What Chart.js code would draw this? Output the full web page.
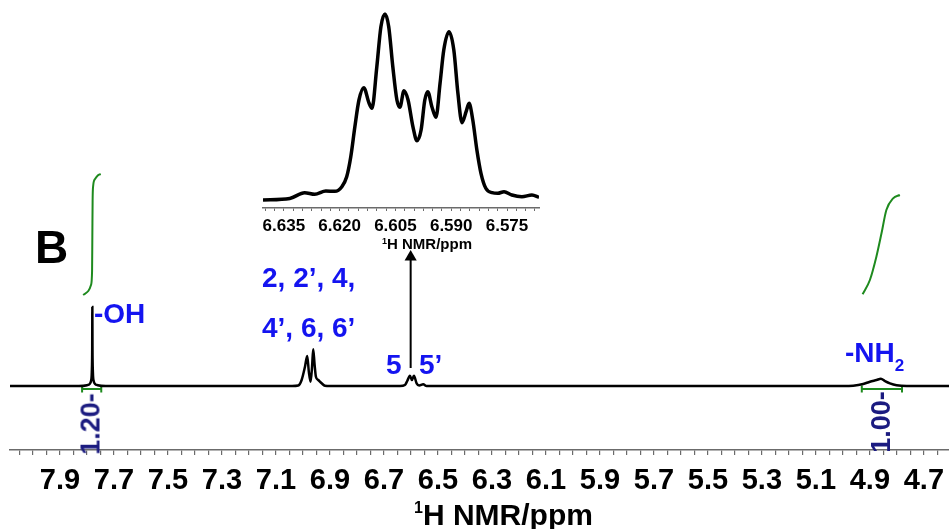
<!DOCTYPE html>
<html>
<head>
<meta charset="utf-8">
<script src="https://cdn.jsdelivr.net/npm/chart.js@4.4.1/dist/chart.umd.min.js"></script>
<style>
html, body { margin: 0; padding: 0; background: #fff; overflow: hidden; }
#wrap { position: relative; width: 949px; height: 529px; font-family: "Liberation Sans", Arial, sans-serif; font-weight: bold; }
canvas { position: absolute; }
#main { left: 0; top: 0; }
#inset { left: 250px; top: 0; }
.lbl { position: absolute; white-space: nowrap; line-height: 1; }
.blue { color: #1414f0; font-size: 28px; }
.int { color: #1b1b80; font-size: 27px; transform: translate(-50%, -50%) rotate(-90deg); }
</style>
</head>
<body>
<div id="wrap">
  <canvas id="main" width="949" height="529"></canvas>
  <canvas id="inset" width="300" height="252"></canvas>

  <div class="lbl" style="left:35px;top:224px;font-size:46px;color:#000">B</div>
  <div class="lbl blue" style="left:94px;top:300px">-OH</div>
  <div class="lbl blue" style="left:262px;top:264px">2, 2’, 4,</div>
  <div class="lbl blue" style="left:262px;top:314px">4’, 6, 6’</div>
  <div class="lbl blue" style="left:386px;top:351px">5</div>
  <div class="lbl blue" style="left:419px;top:351px">5’</div>
  <div class="lbl blue" style="left:845px;top:339px">-NH<span style="font-size:17px;position:relative;top:9px">2</span></div>
  <div class="lbl int" style="left:91px;top:424px">1.20-</div>
  <div class="lbl int" style="left:881px;top:422px">1.00-</div>

  <div class="lbl" style="left:414px;top:500px;font-size:30px;color:#000"><span style="font-size:16px;position:relative;top:-12px">1</span>H NMR/ppm</div>
  <div class="lbl" style="left:382px;top:236px;font-size:15px;color:#000"><span style="font-size:9px;position:relative;top:-5px">1</span>H NMR/ppm</div>
</div>

<script>
// 1H spectrum, chemical shift (ppm) and intensity
const spectrumPpm = [8.085, 7.830, 7.800, 7.790, 7.785, 7.782, 7.7805, 7.780, 7.7795, 7.778, 7.775, 7.770, 7.760, 7.730,
  7.040, 7.0174, 7.0048, 6.9926, 6.9841, 6.978, 6.9715, 6.966, 6.9619, 6.957, 6.9519, 6.9433, 6.9307, 6.9185, 6.900,
  6.640, 6.6222, 6.6137, 6.6037, 6.5963, 6.5889, 6.5789, 6.5693, 6.5544, 6.5419,
  5.000, 4.9619, 4.9248, 4.900, 4.8752, 4.8593, 4.8444, 4.8259, 4.8011, 4.7641, 4.607];
const spectrumIntensity = [0, 0, 0.8, 2, 5, 14, 40, 79, 40, 14, 5, 2, 0.8, 0,
  0, 0.5, 6, 19, 30, 14, 4.3, 20, 36.7, 22, 9.3, 6, 2.7, 0.3, 0,
  0, 1, 5, 10.3, 6, 10.3, 2.7, 0.5, 1.7, 0,
  0, 0.3, 2, 4.3, 6, 7.2, 5, 2.7, 0.8, 0, 0];

// integral curves
const integralOhPpm = [7.814, 7.795, 7.785, 7.781, 7.780, 7.779, 7.777, 7.770, 7.760, 7.749];
const integralOhValue = [91, 95, 101, 115, 150, 185, 200, 207, 210.5, 212];
const integralNh2Ppm = [4.927, 4.900, 4.876, 4.857, 4.839, 4.814, 4.789];
const integralNh2Value = [91.7, 106, 129.3, 152.7, 176, 187.7, 191];
const integralOhRange = [7.818, 7.747];
const integralNh2Range = [4.930, 4.781];

// expanded multiplet of H-5 / H-5'
const insetPpm = [6.6406, 6.6334, 6.6294, 6.6267, 6.6237, 6.6213, 6.6194, 6.6181, 6.6170, 6.6159, 6.6148, 6.6135,
  6.6121, 6.6113, 6.6100, 6.6089, 6.6078, 6.6068, 6.6057, 6.6046, 6.6038, 6.6027, 6.6016, 6.6003, 6.5992,
  6.5981, 6.5971, 6.5963, 6.5952, 6.5941, 6.5930, 6.5920, 6.5906, 6.5893, 6.5882, 6.5871, 6.5860, 6.5852,
  6.5842, 6.5831, 6.5820, 6.5807, 6.5790, 6.5775, 6.5758, 6.5737, 6.5710, 6.5683, 6.5664];
const insetIntensity = [0, 1.5, 7.3, 5.7, 9, 8.7, 13.3, 23.3, 43.3, 73.3, 100, 112.3,
  97, 91.7, 133.3, 173.3, 186, 173.3, 133.3, 100, 92.7, 109.3, 100, 73.3, 59.3,
  70, 100, 108.3, 93.3, 82.7, 116.7, 150, 168.3, 150, 106.7, 77.3, 88.3, 96.7,
  80, 50, 26.7, 11.7, 7.3, 6.7, 8.3, 5, 3.3, 5, 2.7];

// axis tick labels
const tickLabels = ['7.9', '7.7', '7.5', '7.3', '7.1', '6.9', '6.7', '6.5', '6.3', '6.1', '5.9', '5.7', '5.5', '5.3', '5.1', '4.9', '4.7'];
const insetTickLabels = ['6.635', '6.620', '6.605', '6.590', '6.575'];

// arrow from the 5/5' peaks up to the expansion
const arrowPpm = 6.601;
const arrowFrom = 18;
const arrowTo = 129;

const FONT = '"Liberation Sans", Arial, sans-serif';
const GREEN = '#1e8a1e';
const AXIS = '#6b6b6b';

function stepTicks(from, to, step) {
  const out = [];
  const n = Math.round((from - to) / step);
  for (let i = 0; i <= n; i++) out.push(+(from - i * step).toFixed(4));
  return out;
}
function labelFor(list) {
  return v => list.find(s => Math.abs(parseFloat(s) - v) < 1e-6) || '';
}
function toXY(xs, ys) {
  return xs.map((x, i) => ({ x: x, y: ys[i] }));
}
function bracket(range, level) {
  return {
    data: [{ x: range[0], y: level }, { x: range[1], y: level }],
    borderColor: GREEN, borderWidth: 2,
    pointRadius: 3.5, pointStyle: 'line', pointRotation: 90,
    pointBorderColor: GREEN, pointBorderWidth: 2
  };
}
// fixed axis height, no extra side padding from the edge labels
function fixAxis(height) {
  return s => { s.height = height; s.paddingLeft = 0; s.paddingRight = 0; };
}

const mainTicks = stepTicks(8.05, 4.65, 0.05);
const insetTicks = stepTicks(6.64, 6.5675, 0.0025);

new Chart(document.getElementById('main'), {
  type: 'line',
  data: {
    datasets: [
      { data: toXY(spectrumPpm, spectrumIntensity), borderColor: '#000', borderWidth: 2.5 },
      { data: toXY(integralOhPpm, integralOhValue), borderColor: GREEN, borderWidth: 2 },
      { data: toXY(integralNh2Ppm, integralNh2Value), borderColor: GREEN, borderWidth: 2 },
      bracket(integralOhRange, -3),
      bracket(integralNh2Range, -3),
      {
        data: [{ x: arrowPpm, y: arrowFrom }, { x: arrowPpm, y: arrowTo }],
        borderColor: '#000', borderWidth: 2,
        pointRadius: [0, 7], pointStyle: 'triangle',
        pointBackgroundColor: '#000', pointBorderWidth: 0
      }
    ]
  },
  options: {
    responsive: false,
    animation: false,
    devicePixelRatio: 1,
    layout: { autoPadding: false, padding: { left: 10, right: 0, top: 0, bottom: 0 } },
    plugins: { legend: { display: false }, tooltip: { enabled: false } },
    elements: { point: { radius: 0 }, line: { cubicInterpolationMode: 'monotone' } },
    scales: {
      x: {
        type: 'linear', reverse: true, min: 4.607, max: 8.085,
        afterBuildTicks: s => { s.ticks = mainTicks.map(v => ({ value: v })); },
        afterFit: fixAxis(79),
        border: { display: true, color: AXIS, width: 1.5 },
        grid: { drawOnChartArea: false, drawTicks: true, tickLength: 5, color: AXIS, lineWidth: 1.2 },
        ticks: {
          autoSkip: false, maxRotation: 0, minRotation: 0, padding: 9, color: '#000',
          font: { family: FONT, size: 29, weight: 'bold' },
          callback: labelFor(tickLabels)
        }
      },
      y: { type: 'linear', display: false, min: -64, max: 386 }
    }
  }
});

new Chart(document.getElementById('inset'), {
  type: 'line',
  data: {
    datasets: [
      { data: toXY(insetPpm, insetIntensity), borderColor: '#000', borderWidth: 3.5 }
    ]
  },
  options: {
    responsive: false,
    animation: false,
    devicePixelRatio: 1,
    layout: { autoPadding: false, padding: { left: 13, right: 11, top: 0, bottom: 0 } },
    plugins: { legend: { display: false }, tooltip: { enabled: false } },
    elements: { point: { radius: 0 }, line: { cubicInterpolationMode: 'monotone' } },
    scales: {
      x: {
        type: 'linear', reverse: true, min: 6.5664, max: 6.6406,
        afterBuildTicks: s => { s.ticks = insetTicks.map(v => ({ value: v })); },
        afterFit: fixAxis(44),
        border: { display: true, color: AXIS, width: 1.5 },
        grid: { drawOnChartArea: false, drawTicks: true, tickLength: 3, color: AXIS, lineWidth: 1 },
        ticks: {
          autoSkip: false, maxRotation: 0, minRotation: 0, padding: 5, color: '#000',
          font: { family: FONT, size: 17, weight: 'bold' },
          callback: labelFor(insetTickLabels)
        }
      },
      y: { type: 'linear', display: false, min: -8, max: 200 }
    }
  }
});
</script>
</body>
</html>
